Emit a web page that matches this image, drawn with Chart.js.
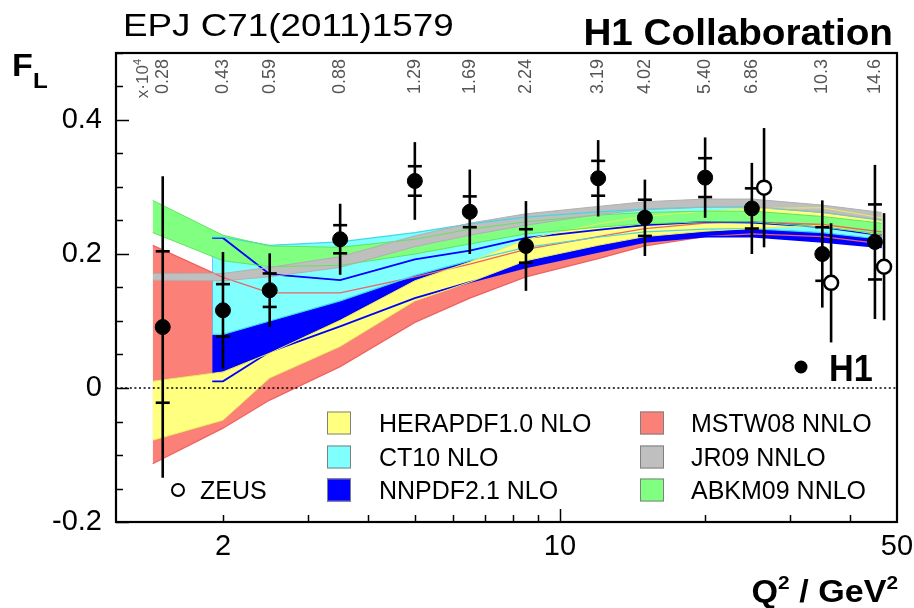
<!DOCTYPE html>
<html><head><meta charset="utf-8">
<script src="https://cdn.jsdelivr.net/npm/chart.js@4.4.0/dist/chart.umd.min.js"></script>
<style>html,body{margin:0;padding:0;background:#fff;overflow:hidden}</style>
</head><body>
<canvas id="c" width="914" height="608"></canvas>
<script>
// ---- data ----
const q2H1   = [1.5, 2, 2.5, 3.5, 5, 6.5, 8.5, 12, 15, 20, 25, 35, 45];
const fLH1   = [0.091, 0.116, 0.146, 0.222, 0.309, 0.263, 0.212, 0.313, 0.254, 0.314, 0.268, 0.200, 0.218];
const statH1 = [0.113, 0.039, 0.025, 0.021, 0.022, 0.023, 0.025, 0.026, 0.027, 0.029, 0.030, 0.040, 0.056];
const totH1  = [0.225, 0.087, 0.055, 0.053, 0.058, 0.063, 0.067, 0.057, 0.057, 0.060, 0.068, 0.080, 0.115];
const xLabels = ['0.28','0.43','0.59','0.88','1.29','1.69','2.24','3.19','4.02','5.40','6.86','10.3','14.6'];

const q2ZEUS  = [26.5, 36.5, 47];
const fLZEUS  = [0.299, 0.157, 0.181];
const totZEUS = [0.089, 0.089, 0.080];

const bandQ2     = [1.43, 2, 2.5, 3.5, 5, 6.5, 8.5, 12, 15, 20, 25, 35, 46.5];
const bandQ2Late = [1.9,  2, 2.5, 3.5, 5, 6.5, 8.5, 12, 15, 20, 25, 35, 46.5];

const herapdfLo = [-0.078,-0.048,0.015,0.062,0.130,0.158,0.190,0.213,0.226,0.234,0.238,0.243,0.228];
const herapdfHi = [0.010,0.024,0.052,0.101,0.160,0.188,0.222,0.245,0.256,0.264,0.268,0.269,0.254];
const ct10Lo    = [0.080,0.080,0.100,0.130,0.168,0.190,0.210,0.225,0.233,0.237,0.238,0.232,0.222];
const ct10Hi    = [0.225,0.225,0.213,0.218,0.232,0.245,0.255,0.263,0.267,0.270,0.270,0.262,0.250];
const nnpdfLo   = [0.010,0.010,0.054,0.092,0.134,0.158,0.180,0.203,0.218,0.226,0.226,0.218,0.210];
const nnpdfHi   = [0.224,0.224,0.170,0.161,0.192,0.205,0.224,0.236,0.243,0.248,0.247,0.240,0.228];
const mstwLo    = [-0.113,-0.060,-0.018,0.032,0.098,0.134,0.166,0.193,0.212,0.226,0.230,0.226,0.215];
const mstwHi    = [0.213,0.165,0.142,0.142,0.166,0.185,0.207,0.226,0.238,0.246,0.248,0.244,0.233];
const jr09Lo    = [0.161,0.160,0.166,0.180,0.211,0.228,0.243,0.259,0.266,0.270,0.271,0.262,0.251];
const jr09Hi    = [0.171,0.171,0.180,0.196,0.227,0.246,0.260,0.271,0.278,0.282,0.282,0.273,0.262];
const abkmLo    = [0.232,0.190,0.181,0.183,0.200,0.215,0.230,0.240,0.245,0.248,0.248,0.240,0.230];
const abkmHi    = [0.280,0.228,0.212,0.210,0.222,0.237,0.248,0.258,0.262,0.264,0.264,0.256,0.246];

const yTicks = [-0.2, 0, 0.2, 0.4];
const xTicks = [2, 10, 50];

// ---- styles ----
const FONT = 'Liberation Sans';
const C = {
  yellow:'#ffff80', cyan:'#80ffff', blue:'#0000ff', red:'#fa8078', gray:'#bfbfbf', green:'#80ff80'
};

function band(label, q, lo, hi, fill, line, lw) {
  return [
    { label: label + ' low', data: q.map((x, i) => ({x, y: lo[i]})), borderColor: line, borderWidth: lw,
      pointRadius: 0, fill: false, tension: 0 },
    { label: label, data: q.map((x, i) => ({x, y: hi[i]})), borderColor: line, borderWidth: lw,
      pointRadius: 0, fill: '-1', backgroundColor: fill, tension: 0 }
  ];
}

const datasets = [
  { label: 'H1', data: q2H1.map((x, i) => ({x, y: fLH1[i]})), showLine: false,
    pointRadius: 7.5, pointBackgroundColor: '#000', pointBorderColor: '#000', pointBorderWidth: 1, fill: false },
  { label: 'ZEUS', data: q2ZEUS.map((x, i) => ({x, y: fLZEUS[i]})), showLine: false,
    pointRadius: 7, pointBackgroundColor: '#fff', pointBorderColor: '#000', pointBorderWidth: 2.5, fill: false },
  ...band('JR09 NNLO', bandQ2, jr09Lo, jr09Hi, C.gray, '#b0b0b0', 1),
  ...band('ABKM09 NNLO', bandQ2, abkmLo, abkmHi, C.green, '#5fe65f', 1),
  ...band('HERAPDF1.0 NLO', bandQ2, herapdfLo, herapdfHi, C.yellow, '#ecec60', 1),
  ...band('CT10 NLO', bandQ2Late, ct10Lo, ct10Hi, C.cyan, '#40d8e8', 1.2),
  ...band('NNPDF2.1 NLO', bandQ2Late, nnpdfLo, nnpdfHi, C.blue, '#0000ff', 1.8),
  ...band('MSTW08 NNLO', bandQ2, mstwLo, mstwHi, C.red, '#f06262', 1.3),
];

function line(ctx, x1, y1, x2, y2) { ctx.beginPath(); ctx.moveTo(x1, y1); ctx.lineTo(x2, y2); ctx.stroke(); }
function text(ctx, s, x, y, font, align, sx, color) {
  ctx.save(); ctx.translate(x, y); ctx.scale(sx || 1, 1);
  ctx.font = font; ctx.textAlign = align || 'left'; ctx.textBaseline = 'alphabetic';
  ctx.fillStyle = color || '#000'; ctx.fillText(s, 0, 0); ctx.restore();
}

const decor = {
  id: 'decor',
  beforeDatasetDraw(chart, args) {
    if (args.index !== 1) return;
    const {ctx, chartArea: a, scales: {x, y}} = chart;
    ctx.save();
    // zero line
    ctx.strokeStyle = '#000'; ctx.lineWidth = 1.5; ctx.setLineDash([2, 2.6]);
    const y0 = y.getPixelForValue(0);
    line(ctx, a.left, y0, a.right, y0);
    ctx.setLineDash([]);
    // error bars
    ctx.lineWidth = 2.6; ctx.lineCap = 'butt';
    q2H1.forEach((q, i) => {
      const px = x.getPixelForValue(q), v = fLH1[i];
      line(ctx, px, y.getPixelForValue(v + totH1[i]), px, y.getPixelForValue(v - totH1[i]));
      [v + statH1[i], v - statH1[i]].forEach(s => { const py = y.getPixelForValue(s); line(ctx, px - 7, py, px + 7, py); });
    });
    q2ZEUS.forEach((q, i) => {
      const px = x.getPixelForValue(q), v = fLZEUS[i];
      line(ctx, px, y.getPixelForValue(v + totZEUS[i]), px, y.getPixelForValue(v - totZEUS[i]));
    });
    ctx.restore();
  },
  afterDatasetsDraw(chart) {
    const {ctx, chartArea: a, scales: {x, y}} = chart;
    ctx.save();
    ctx.strokeStyle = '#000'; ctx.lineWidth = 1.5;
    for (let i = 0; i <= 14; i++) {
      const v = -0.2 + i * 0.05;
      const major = Math.abs(v / 0.2 - Math.round(v / 0.2)) < 1e-6;
      const py = Math.round(y.getPixelForValue(v)) + 0.5;
      line(ctx, a.left, py, a.left + (major ? 13 : 7), py);
    }
    [2, 3, 4, 5, 6, 7, 8, 9, 10, 20, 30, 40].forEach(v => {
      const px = Math.round(x.getPixelForValue(v)) + 0.5;
      line(ctx, px, a.bottom, px, a.bottom - (v === 10 ? 13 : 7));
    });
    ctx.lineWidth = 2.2;
    ctx.strokeRect(a.left, a.top, a.right - a.left, a.bottom - a.top);
    ctx.restore();
  },
  afterDraw(chart) {
    const {ctx, chartArea: a, scales: {x, y}} = chart;
    ctx.save();
    text(ctx, 'EPJ C71(2011)1579', 123, 36, `32px "${FONT}"`, 'left', 1.15);
    text(ctx, 'H1 Collaboration', 893, 45, `bold 36px "${FONT}"`, 'right', 1.075);
    text(ctx, 'F', 12, 76, `bold 31px "${FONT}"`, 'left', 1.1);
    text(ctx, 'L', 33, 88, `bold 22px "${FONT}"`, 'left', 1.1);
    // x-axis title Q^2 / GeV^2
    {
      const big = `bold 31px "${FONT}"`, small = `bold 19px "${FONT}"`, sx = 1.1;
      const parts = [['Q', big, 0], ['2', small, -13], [' / GeV', big, 0], ['2', small, -13]];
      let w = 0;
      parts.forEach(p => { ctx.font = p[1]; w += ctx.measureText(p[0]).width * sx; });
      let cx = 898 - w;
      parts.forEach(p => { ctx.font = p[1]; text(ctx, p[0], cx, 602 + p[2], p[1], 'left', sx); cx += ctx.measureText(p[0]).width * sx; });
    }
    // top x labels (rotated)
    ctx.fillStyle = '#555';
    q2H1.forEach((q, i) => {
      const px = x.getPixelForValue(q);
      ctx.save(); ctx.translate(px, a.top + 6); ctx.rotate(-Math.PI / 2);
      ctx.font = `18px "${FONT}"`; ctx.textAlign = 'right'; ctx.textBaseline = 'middle';
      ctx.fillText(xLabels[i], 0, 0); ctx.restore();
    });
    {
      const px = x.getPixelForValue(q2H1[0]) - 19;
      ctx.save(); ctx.translate(px, a.top + 6); ctx.rotate(-Math.PI / 2);
      ctx.textAlign = 'right'; ctx.textBaseline = 'middle';
      ctx.font = `11px "${FONT}"`; ctx.fillText('4', 0, -6);
      const w4 = ctx.measureText('4').width;
      ctx.font = `17px "${FONT}"`; ctx.fillText('x\u00b710', -w4, 0);
      ctx.restore();
    }
    // legend
    const leg = [
      ['HERAPDF1.0 NLO', C.yellow, 327, 379, 423], ['CT10 NLO', C.cyan, 327, 379, 457], ['NNPDF2.1 NLO', C.blue, 327, 379, 490],
      ['MSTW08 NNLO', C.red, 640, 691, 423], ['JR09 NNLO', C.gray, 640, 691, 457], ['ABKM09 NNLO', C.green, 640, 691, 490]
    ];
    leg.forEach(([t, col, bx, tx, cy]) => {
      ctx.fillStyle = col; ctx.fillRect(bx, cy - 11.5, 24, 23);
      ctx.strokeStyle = '#808080'; ctx.lineWidth = 1; ctx.strokeRect(bx + 0.5, cy - 11, 23, 22);
      text(ctx, t, tx, cy + 9, `25px "${FONT}"`, 'left', 1.0);
    });
    // ZEUS legend
    ctx.strokeStyle = '#000'; ctx.lineWidth = 2; ctx.fillStyle = '#fff';
    ctx.beginPath(); ctx.arc(178, 490, 6, 0, Math.PI * 2); ctx.fill(); ctx.stroke();
    text(ctx, 'ZEUS', 200, 499, `25px "${FONT}"`, 'left', 1.0);
    // H1 legend
    ctx.fillStyle = '#000';
    ctx.beginPath(); ctx.arc(801, 367, 6.5, 0, Math.PI * 2); ctx.fill();
    text(ctx, 'H1', 829, 381, `bold 36px "${FONT}"`, 'left', 0.95);
    ctx.restore();
  }
};

new Chart(document.getElementById('c'), {
  type: 'line',
  data: { datasets },
  plugins: [decor],
  options: {
    responsive: false, animation: false, devicePixelRatio: 1,
    layout: { padding: { left: 0, right: 17, top: 53, bottom: 0 } },
    plugins: { legend: { display: false }, tooltip: { enabled: false }, filler: { drawTime: 'beforeDatasetsDraw' } },
    scales: {
      x: {
        type: 'logarithmic', min: 1.2, max: 50, position: 'bottom',
        grid: { display: false }, border: { display: false },
        ticks: { font: { family: FONT, size: 29 }, color: '#000', padding: 0, maxRotation: 0, autoSkip: false,
                 callback: v => String(v) },
        afterBuildTicks: s => { s.ticks = xTicks.map(v => ({ value: v })); },
        afterFit: s => { s.height = 86; }
      },
      y: {
        type: 'linear', min: -0.2, max: 0.5,
        grid: { display: false }, border: { display: false },
        ticks: { font: { family: FONT, size: 29 }, color: '#000', padding: 6,
                 callback: v => (Math.abs(v) < 1e-9 ? '0' : v.toFixed(1)) },
        afterBuildTicks: s => { s.ticks = yTicks.map(v => ({ value: v })); },
        afterFit: s => { s.width = 116; }
      }
    }
  }
});
</script>
</body></html>
